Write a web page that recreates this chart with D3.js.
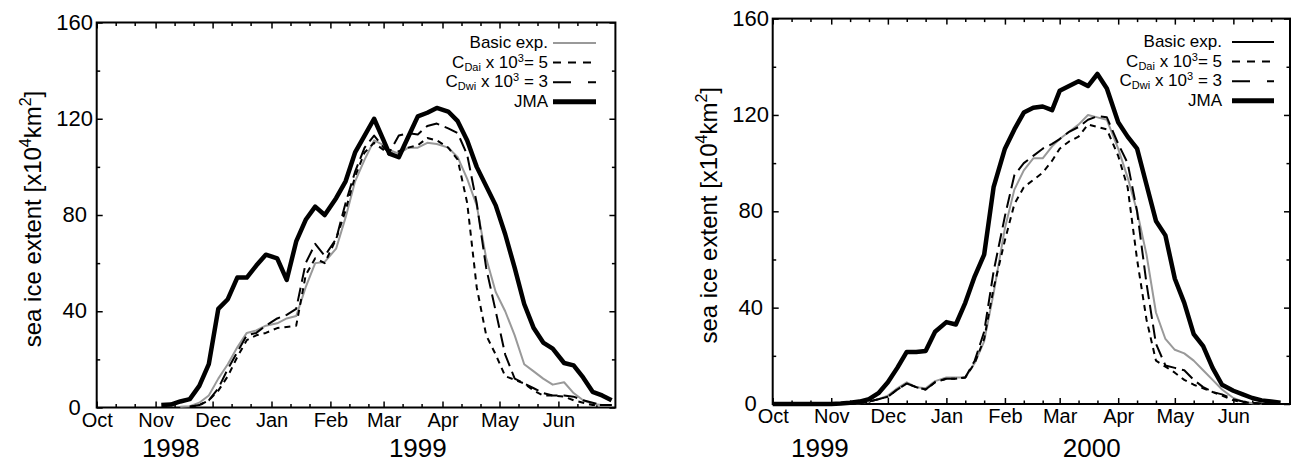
<!DOCTYPE html>
<html>
<head>
<meta charset="utf-8">
<script src="https://cdn.jsdelivr.net/npm/d3@7"></script>
<style>
  body { margin: 0; background: #fff; }
  svg { display: block; font-family: "Liberation Sans", Arial, sans-serif; }
</style>
</head>
<body>
<svg id="chart" width="1291" height="462"></svg>
<script>
// tick labels
var yTicks = [0, 40, 80, 120, 160];
var yMinor = [20, 60, 100, 140];

// legend labels: [text, kind]
var legendLabels = [
    [["Basic exp.", ""]],
    [["C", ""], ["Dai", "sub"], [" x 10", ""], ["3", "sup"], ["= 5", ""]],
    [["C", ""], ["Dwi", "sub"], [" x 10", ""], ["3", "sup"], [" = 3", ""]],
    [["JMA", ""]]
];

// sea ice extent (x10^4 km2), 6 pentads per month, Oct..Jun
// season 1998-1999
var basic98 = [
    null, null, null, null, null, null,
    null, null, 0.3, 0.5, 2, 5,
    12, 18, 25, 31, 32, 34,
    35, 37, 38, 50, 60, 60.5,
    66, 79, 94, 103, 111, 109,
    107, 105.5, 108, 108, 110, 109.5,
    108, 104, 95, 84, 62, 48,
    40, 30, 18, 15, 12, 9.5,
    10.5, 6, 3, 1.5, 1, 1
];
var cdai98 = [
    null, null, null, null, null, null,
    null, null, null, 0.3, 1, 3,
    7, 13, 21, 28, 30, 31,
    33, 33.5, 34, 55, 62, 60,
    70, 82, 96, 106, 110, 107,
    105, 106.5, 108, 109, 112, 111,
    108, 103, 85, 50, 30, 22,
    13, 11.5, 10, 7, 5, 5,
    4.5, 3, 2, 1, 1, 1
];
var cdwi98 = [
    null, null, null, null, null, null,
    null, null, null, 0.3, 1, 3,
    8, 16, 23, 30, 31, 34,
    37, 38.5, 41, 60, 68, 63,
    70, 85, 98, 108, 113, 108,
    106, 113, 114, 113.5, 117, 118,
    116, 114, 105, 85, 58, 40,
    22, 12, 10, 8, 6, 5,
    5, 4.5, 3, 2, 1, 1
];
var jma98 = [
    null, null, null, null, null, null,
    1, 1.2, 2.5, 3.5, 9, 18,
    41, 45, 54, 54, 59, 63.5,
    62, 53, 69, 78, 83.5, 80,
    87, 94, 106, 113, 120, 111,
    105.5, 104, 112.5, 121, 122.5, 124.5,
    123, 119, 111, 100, 92, 84,
    72, 58, 43, 33, 27, 24.5,
    18.5, 17.5, 12.5, 6.5, 5, 3
];

// season 1999-2000
var basic99 = [
    null, null, null, null, null, null,
    null, null, 0, 0.3, 1, 2,
    3.5, 6.5, 9, 7, 6.5, 9.5,
    11, 11, 11, 17, 26, 46,
    73, 89, 97, 102, 102, 107,
    110, 113, 116, 120, 119, 118,
    106, 94, 80, 62, 38, 27,
    22.5, 21, 18, 14, 10, 6,
    2.5, 1, 0.3, 0, null, null
];
var cdai99 = [
    null, null, null, null, null, null,
    null, null, 0, 0.3, 1, 2,
    3, 6, 8.5, 7, 6, 9,
    10.5, 10.5, 11, 17, 27, 48,
    68, 83, 90, 93, 96, 101,
    106, 109, 111, 116, 115, 114,
    103, 90, 60, 35, 18, 15.5,
    13, 10, 8, 6.5, 5, 3.5,
    1.5, 0.8, 0.3, 0, null, null
];
var cdwi99 = [
    null, null, null, null, null, null,
    null, null, 0, 0.3, 1, 2,
    3, 6, 8.5, 7, 6, 9,
    10.5, 10.5, 11, 18, 30, 55,
    78, 95, 100, 103, 106, 108,
    110, 113, 115, 118, 119.5, 119,
    108, 100, 80, 50, 25, 16,
    15, 14, 10, 7, 5, 4,
    2, 1, 0.5, 0.2, null, null
];
var jma99 = [
    0, 0, 0, 0, 0, 0,
    0, 0.2, 0.5, 1, 2, 4.5,
    9, 15, 21.6, 21.6, 22, 30,
    34, 33, 42, 53, 62, 90,
    106, 114, 121, 123, 123.5, 122,
    130, 132, 134, 132, 137, 131,
    117, 111, 106, 91, 76, 70,
    52, 42, 29, 24, 15, 8,
    5.5, 4, 2.5, 1.5, 1, 0.5
];

var svg = d3.select("#chart");

function drawPanel(opt) {
    var g = svg.append("g");
    var t0 = new Date(opt.year, 9, 1), t1 = new Date(opt.year + 1, 6, 1);

    var x = d3.scaleTime().domain([t0, t1]).range([opt.left, opt.right]);
    var y = d3.scaleLinear().domain([0, 160]).range([opt.bottom, opt.top]);

    // date of the i-th pentad point
    var dateOf = function (i) {
        return new Date(opt.year, 9 + Math.floor(i / 6), opt.days[i % 6]);
    };

    var monthStarts = d3.timeMonth.range(t0, t1);
    var dekads = d3.timeDay.range(t0, t1).filter(function (d) {
        return d.getDate() == 11 || d.getDate() == 21;
    });

    function styleAxis(sel) {
        sel.select(".domain").remove();
        sel.selectAll("line").attr("stroke", "#000").attr("stroke-width", 1.5);
    }

    // bottom
    g.append("g").attr("transform", "translate(0," + opt.bottom + ")")
        .call(d3.axisBottom(x).tickValues(monthStarts).tickSizeInner(-6).tickSizeOuter(0)
            .tickPadding(5).tickFormat(d3.timeFormat("%b")))
        .call(styleAxis)
        .attr("font-family", null)
        .attr("font-size", 20)
        .selectAll("text").attr("fill", "#000");
    g.append("g").attr("transform", "translate(0," + opt.bottom + ")")
        .call(d3.axisBottom(x).tickValues(dekads).tickSize(-3.5).tickFormat(""))
        .call(styleAxis);

    // top
    g.append("g").attr("transform", "translate(0," + opt.top + ")")
        .call(d3.axisTop(x).tickValues(monthStarts).tickSize(-6).tickFormat(""))
        .call(styleAxis);
    g.append("g").attr("transform", "translate(0," + opt.top + ")")
        .call(d3.axisTop(x).tickValues(dekads).tickSize(-3.5).tickFormat(""))
        .call(styleAxis);

    // left
    var yl = g.append("g").attr("transform", "translate(" + opt.left + ",0)")
        .call(d3.axisLeft(y).tickValues(yTicks).tickSize(-6).tickFormat(d3.format("d")))
        .call(styleAxis)
        .attr("font-family", null)
        .attr("font-size", 22);
    yl.selectAll("text")
        .attr("x", -22)
        .attr("dy", "0.3em")
        .attr("text-anchor", "middle")
        .attr("fill", "#000");
    g.append("g").attr("transform", "translate(" + opt.left + ",0)")
        .call(d3.axisLeft(y).tickValues(yMinor).tickSize(-3.5).tickFormat(""))
        .call(styleAxis);

    // right
    g.append("g").attr("transform", "translate(" + opt.right + ",0)")
        .call(d3.axisRight(y).tickValues(yTicks).tickSize(-6).tickFormat(""))
        .call(styleAxis);
    g.append("g").attr("transform", "translate(" + opt.right + ",0)")
        .call(d3.axisRight(y).tickValues(yMinor).tickSize(-3.5).tickFormat(""))
        .call(styleAxis);

    // frame
    g.append("rect")
        .attr("x", opt.left).attr("y", opt.top)
        .attr("width", opt.right - opt.left).attr("height", opt.bottom - opt.top)
        .attr("fill", "none").attr("stroke", "#000").attr("stroke-width", 2);

    // year labels
    g.selectAll(".year")
        .data(opt.years)
        .enter()
        .append("text")
        .attr("x", function (d) { return x(d.date); })
        .attr("y", 457)
        .attr("text-anchor", "middle")
        .attr("font-size", 26)
        .text(function (d) { return d.label; });

    // y title
    var title = g.append("text")
        .attr("transform", "translate(" + (opt.left - 56) + "," + ((opt.top + opt.bottom) / 2 + 4) + ") rotate(-90)")
        .attr("text-anchor", "middle")
        .attr("font-size", 24);
    title.append("tspan").text("sea ice extent [x10");
    title.append("tspan").attr("dy", -10).attr("font-size", 16).text("4");
    title.append("tspan").attr("dy", 10).text("km");
    title.append("tspan").attr("dy", -10).attr("font-size", 16).text("2");
    title.append("tspan").attr("dy", 10).text("]");

    // series
    var styles = [
        { data: opt.basic, color: "#999", width: 2, dash: null },
        { data: opt.cdai, color: "#000", width: 2, dash: "6,5" },
        { data: opt.cdwi, color: "#000", width: 2, dash: "14,6" },
        { data: opt.jma, color: "#000", width: 4.5, dash: null }
    ];

    var line = d3.line()
        .defined(function (d) { return d != null; })
        .x(function (d, i) { return x(dateOf(i)); })
        .y(function (d) { return y(d); });

    styles.forEach(function (s) {
        g.append("path")
            .datum(s.data)
            .attr("d", line)
            .attr("fill", "none")
            .attr("stroke", s.color)
            .attr("stroke-width", s.width)
            .attr("stroke-linejoin", "round")
            .attr("stroke-dasharray", s.dash);
    });

    // legend: each label built from separate pieces, then right-aligned
    var legendStyles = [
        { color: opt.legendBasic, width: 2, dash: null },
        { color: "#000", width: 2, dash: "8,7" },
        { color: "#000", width: 2, dash: "18,17" },
        { color: "#000", width: 5, dash: null }
    ];
    legendLabels.forEach(function (parts, i) {
        var ry = opt.legendY + i * 19.6;
        var row = g.append("g");
        var cx = 0;
        parts.forEach(function (p) {
            var small = p[1] != "";
            var t = row.append("text")
                .attr("x", cx)
                .attr("y", ry + 6 + (p[1] == "sub" ? 3 : (p[1] == "sup" ? -6 : 0)))
                .attr("font-size", small ? 11 : 17)
                .style("white-space", "pre")
                .text(p[0]);
            cx += t.node().getComputedTextLength();
        });
        row.attr("transform", "translate(" + (opt.legendText - cx) + ",0)");

        g.append("line")
            .attr("x1", opt.legendLine[0]).attr("x2", opt.legendLine[1])
            .attr("y1", ry + 1).attr("y2", ry + 1)
            .attr("stroke", legendStyles[i].color)
            .attr("stroke-width", legendStyles[i].width)
            .attr("stroke-dasharray", legendStyles[i].dash);
    });
}

drawPanel({
    year: 1998,
    left: 96.7, right: 615.4, top: 22.5, bottom: 407.5,
    days: [4, 9, 14, 19, 24, 29],
    basic: basic98, cdai: cdai98, cdwi: cdwi98, jma: jma98,
    years: [{ label: "1998", date: new Date(1998, 10, 9) }, { label: "1999", date: new Date(1999, 2, 19) }],
    legendBasic: "#999",
    legendY: 42, legendText: 548, legendLine: [553, 596]
});

drawPanel({
    year: 1999,
    left: 772.7, right: 1290, top: 18.6, bottom: 404,
    days: [1, 6, 11, 16, 21, 26],
    basic: basic99, cdai: cdai99, cdwi: cdwi99, jma: jma99,
    years: [{ label: "1999", date: new Date(1999, 9, 26) }, { label: "2000", date: new Date(2000, 2, 18) }],
    legendBasic: "#000",
    legendY: 41, legendText: 1222, legendLine: [1232, 1274]
});
</script>
</body>
</html>
